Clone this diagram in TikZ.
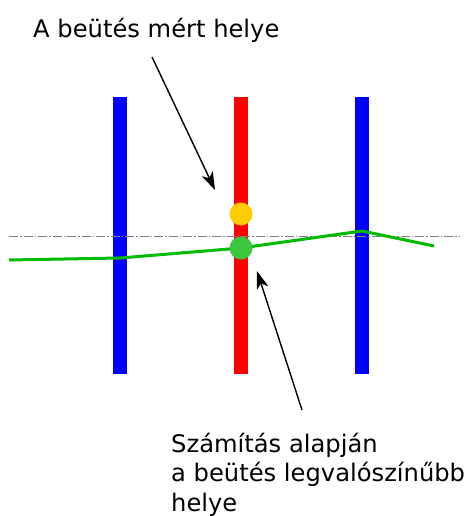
\documentclass[tikz,border=0pt]{standalone}
\usepackage{fontspec}
\setmainfont{DejaVu Sans}
\usetikzlibrary{arrows.meta}
\definecolor{barblue}{HTML}{0000FF}
\definecolor{barred}{HTML}{FF0000}
\definecolor{trackgreen}{HTML}{00BB00}
\definecolor{hitgreen}{HTML}{3CC83C}
\definecolor{hityellow}{HTML}{FFCC00}
\tikzset{
  bar/.style={inner sep=0pt, minimum width=14pt, minimum height=277pt},
  hit/.style={circle, inner sep=0pt, minimum size=23pt},
  label/.style={inner sep=0pt, font=\fontsize{24.2}{29.5}\selectfont, align=left},
  pointer/.style={black, line width=1.4pt, -{Stealth[length=18pt,width=12pt,inset=5pt]}},
  axisline/.style={gray, line width=1pt, dash pattern=on 9pt off 2pt on 1.5pt off 2pt},
  track/.style={trackgreen, line width=3pt, line join=round}
}
\begin{document}
\begin{tikzpicture}[x=1pt,y=-1pt]
\useasboundingbox (0,0) rectangle (466,516);
% detector layers
\node[bar, fill=barblue] (b1) at (120,235.5) {};
\node[bar, fill=barred] (b2) at (241,235.5) {};
\node[bar, fill=barblue] (b3) at (362,235.5) {};
% reference axis
\coordinate (axL) at (9,236);
\coordinate (axR) at (460,236);
\draw[axisline] (axL) -- (axR);
% track
\coordinate (t0) at (9,260);
\coordinate (t1) at (120,258);
\coordinate (t2) at (241,248);
\coordinate (t3) at (362,231);
\coordinate (t4) at (434,246);
\draw[track] (t0) -- (t1) -- (t2) -- (t3) -- (t4);
% hits
\node[hit, fill=hityellow] (meas) at (241,214) {};
\node[hit, fill=hitgreen] (calc) at (241,248) {};
% labels
\node[label, anchor=base west] (lab1) at (33,38) {A beütés mért helye};
\node[label, anchor=base west] (lab2) at (171,511) {Számítás alapján\\a beütés legvalószínűbb\\helye};
% pointers
\coordinate (p1s) at (152,57);
\coordinate (p1e) at (215,190);
\coordinate (p2s) at (302,410);
\coordinate (p2e) at (257,271);
\draw[pointer] (p1s) -- (p1e);
\draw[pointer] (p2s) -- (p2e);
\end{tikzpicture}
\end{document}
